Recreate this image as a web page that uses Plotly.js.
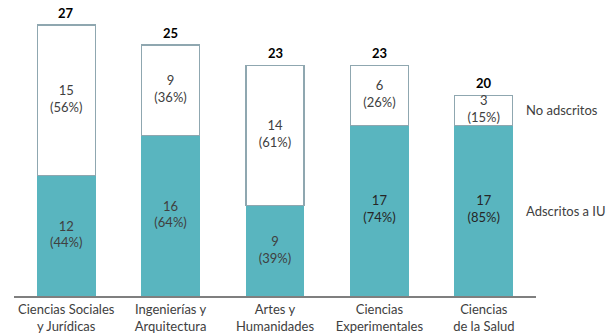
<!DOCTYPE html>
<html>
<head>
<meta charset="utf-8">
<script src="https://cdn.plot.ly/plotly-3.0.1.min.js"></script>
<style>html,body{margin:0;padding:0;background:#fff;}#chart{width:615px;height:336px;}</style>
</head>
<body>
<div id="chart"></div>
<script>
const categories = ["Ciencias Sociales<br>y Jurídicas", "Ingenierías y<br>Arquitectura", "Artes y<br>Humanidades", "Ciencias<br>Experimentales", "Ciencias<br>de la Salud"];
const adscritos = [12, 16, 9, 17, 17];
const adscritosPct = [44, 64, 39, 74, 85];
const noAdscritos = [15, 9, 14, 6, 3];
const noAdscritosPct = [56, 36, 61, 26, 15];
const totals = [27, 25, 23, 23, 20];
const seriesNames = ["Adscritos a IU", "No adscritos"];

const FONT = "Lato, 'Open Sans', sans-serif";
const teal = "#59B5BF";
const edge = "#8FA7B0";

const idx = categories.map((_, i) => i);

const barAds = {
  type: "bar", x: idx, y: adscritos, name: seriesNames[0],
  marker: {color: teal, line: {color: teal, width: 1}},
  hoverinfo: "skip", width: 0.555
};
const barNo = {
  type: "bar", x: idx, y: noAdscritos, name: seriesNames[1],
  marker: {color: "#ffffff", line: {color: edge, width: 1.3}},
  hoverinfo: "skip", width: 0.555
};

const adsText = {
  type: "scatter", mode: "text", x: idx,
  y: adscritos.map(v => v / 2),
  text: adscritos.map((v, i) => v + "<br>(" + adscritosPct[i] + "%)"),
  textfont: {family: FONT, size: 13, color: adscritos.map((v,i)=> i >= 3 ? "#262626" : "#404040")},
  hoverinfo: "skip", showlegend: false, cliponaxis: false
};
const noText = {
  type: "scatter", mode: "text", x: idx,
  y: noAdscritos.map((v, i) => adscritos[i] + v / 2),
  text: noAdscritos.map((v, i) => v + "<br>(" + noAdscritosPct[i] + "%)"),
  textfont: {family: FONT, size: 13, color: "#404040"},
  hoverinfo: "skip", showlegend: false, cliponaxis: false
};

const last = categories.length - 1;
const annotations = totals.map((t, i) => ({
  xref: "x", yref: "y", x: i, y: t, yanchor: "bottom", yshift: 2,
  text: "<b>" + t + "</b>", showarrow: false,
  font: {family: FONT, size: 13, color: "#000"}
}));
annotations.push(
  {xref: "paper", yref: "y", x: 1, xanchor: "left", xshift: -12, y: adscritos[last] + noAdscritos[last] / 2,
   text: seriesNames[1], showarrow: false, font: {family: FONT, size: 13, color: "#404040"}},
  {xref: "paper", yref: "y", x: 1, xanchor: "left", xshift: -12, y: adscritos[last] / 2,
   text: seriesNames[0], showarrow: false, font: {family: FONT, size: 13, color: "#404040"}}
);

const layout = {
  width: 615, height: 336,
  margin: {l: 14, r: 79, t: 20, b: 40},
  barmode: "stack",
  showlegend: false,
  paper_bgcolor: "#fff", plot_bgcolor: "#fff",
  font: {family: FONT, size: 13, color: "#404040"},
  xaxis: {
    range: [-0.5, 4.5], tickmode: "array", tickvals: idx, ticktext: categories,
    showgrid: false, zeroline: false, showline: true, linecolor: "#7f7f7f", linewidth: 2,
    ticks: "", tickfont: {family: FONT, size: 13, color: "#404040"}, fixedrange: true
  },
  yaxis: {range: [0, 27.5], visible: false, showgrid: false, zeroline: false, fixedrange: true},
  annotations: annotations
};

Plotly.newPlot("chart", [barAds, barNo, adsText, noText], layout, {displayModeBar: false, staticPlot: true});
</script>
</body>
</html>
